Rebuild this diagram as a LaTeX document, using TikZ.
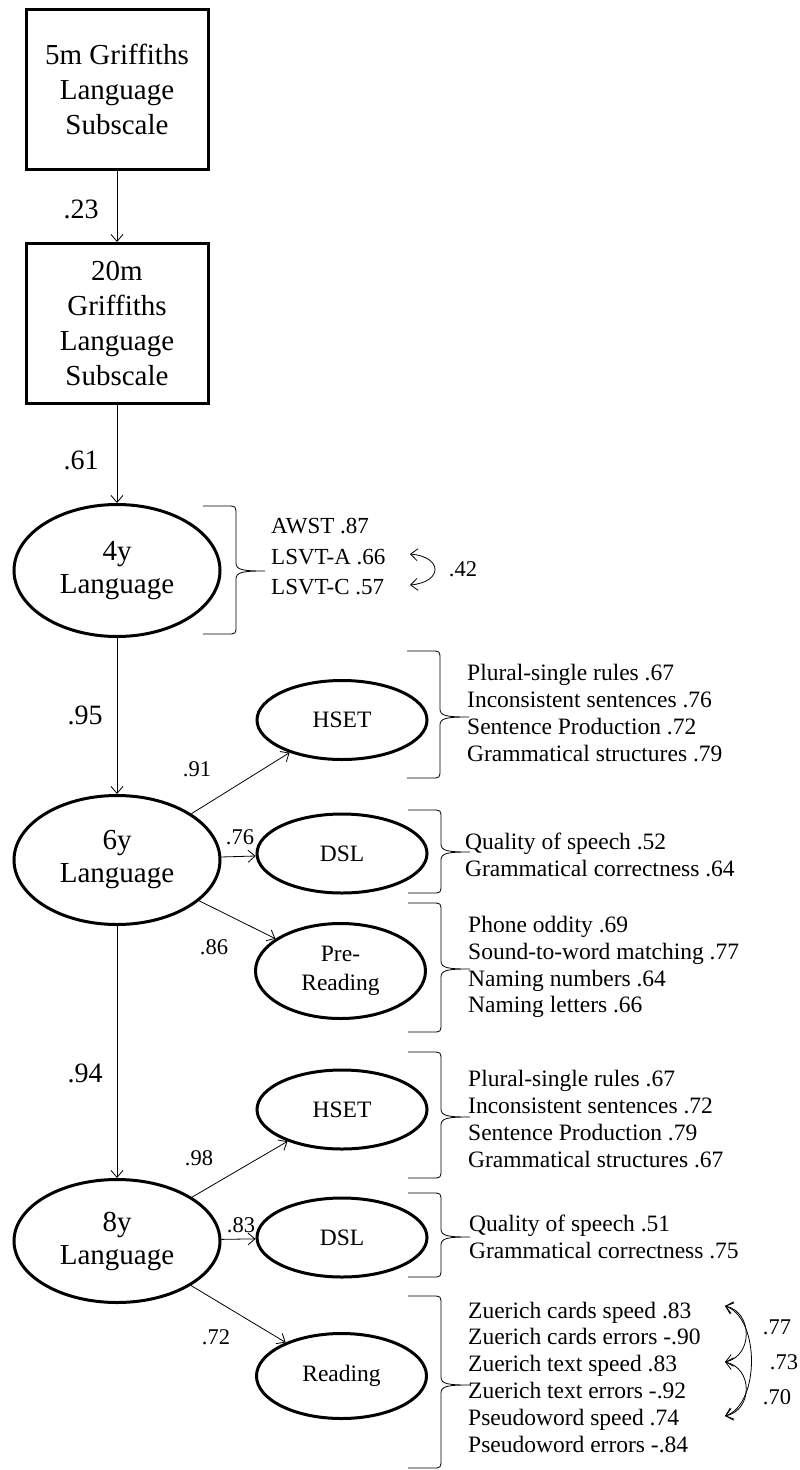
\documentclass[tikz,border=0pt]{standalone}
\usepackage{fontspec}
\setmainfont{Liberation Serif}
\usepackage{tikz}
\usetikzlibrary{shapes.geometric,arrows.meta}

\newcommand{\itembrace}[4]{%
	\draw[brc] (#1,#2) -- ({#1+24},#2) .. controls ({#1+33},#2) .. ({#1+33},{#2+9})
		-- ({#1+33},{#3-8}) .. controls ({#1+33},{#3-1}) and ({#1+40},#3) .. ({#1+62},#3)
		.. controls ({#1+40},#3) and ({#1+33},{#3+1}) .. ({#1+33},{#3+8})
		-- ({#1+33},{#4-9}) .. controls ({#1+33},#4) .. ({#1+24},#4) -- (#1,#4);%
}

\tikzset{
	measure/.style={draw, line width=3pt, rectangle, minimum width=182pt, minimum height=160pt, align=center, inner sep=0pt, font=\fontsize{29}{35}\selectfont},
	latent/.style={draw, line width=3pt, ellipse, minimum width=206pt, minimum height=129pt, align=center, inner sep=0pt, font=\fontsize{29}{33}\selectfont},
	factor/.style={draw, line width=3pt, ellipse, minimum width=170pt, minimum height=79pt, align=center, inner sep=0pt, font=\fontsize{23.5}{29}\selectfont},
	regr/.style={line width=0.8pt, -{Straight Barb[length=7pt,width=12pt]}},
	cov/.style={line width=0.8pt, {Straight Barb[length=7pt,width=12pt]}-{Straight Barb[length=7pt,width=12pt]}},
	bigcoef/.style={inner sep=0pt, font=\fontsize{28}{28}\selectfont},
	coef/.style={inner sep=0pt, font=\fontsize{22.5}{22.5}\selectfont},
	items/.style={anchor=west, align=left, inner sep=0pt, font=\fontsize{23.5}{26.8}\selectfont},
	brc/.style={line width=0.8pt}
}

\begin{document}
\begin{tikzpicture}[x=1pt, y=-1pt]
\useasboundingbox (0,0) rectangle (800,1470);

\node[measure] (b5m) at (117,89.5) {5m Griffiths\\Language\\Subscale};
\node[measure] (b20m) at (117,323.5) {20m\\Griffiths\\Language\\Subscale};
\node[latent, minimum height=132pt] (y4) at (117,570.5) {4y\\Language};
\node[latent] (y6) at (117,860) {6y\\Language};
\node[latent, minimum height=123pt] (y8) at (117,1241) {8y\\Language};

\node[factor] (hset6) at (342,720) {HSET};
\node[factor] (dsl6) at (342,853.5) {DSL};
\node[factor, minimum height=95pt] (pre6) at (340.5,971) {Pre-\\Reading};
\node[factor] (hset8) at (342,1109.5) {HSET};
\node[factor] (dsl8) at (342,1237.5) {DSL};
\node[factor, minimum height=85pt] (read8) at (341.5,1376) {Reading};

\draw[regr] (b5m) -- (b20m);
\draw[regr] (b20m) -- (y4);
\draw[regr] (y4) -- (y6);
\draw[regr] (y6) -- (y8);
\draw[regr] (y6) -- (hset6);
\draw[regr] (y6) -- (dsl6);
\draw[regr] (y6) -- (pre6);
\draw[regr] (y8) -- (hset8);
\draw[regr] (y8) -- (dsl8);
\draw[regr] (y8) -- (read8);

\node[bigcoef] (k23) at (81,209) {.23};
\node[bigcoef] (k61) at (81,460) {.61};
\node[bigcoef] (k95) at (85,715) {.95};
\node[bigcoef] (k94) at (85,1073) {.94};
\node[coef] (k91) at (197,769) {.91};
\node[coef] (k76) at (240,837) {.76};
\node[coef] (k86) at (214,947) {.86};
\node[coef] (k98) at (199,1158) {.98};
\node[coef] (k83) at (241,1225) {.83};
\node[coef] (k72) at (216,1337) {.72};

\itembrace{203}{506}{571}{634}
\itembrace{407}{651}{717}{778}
\itembrace{408}{810}{852}{893}
\itembrace{408}{903}{969}{1032}
\itembrace{408}{1052}{1117}{1178}
\itembrace{408}{1193}{1237}{1277}
\itembrace{408}{1296}{1385}{1468}

\node[items, font=\fontsize{23}{30.5}\selectfont] (it4) at (271,557) {AWST .87\\LSVT-A .66\\LSVT-C .57};
\node[items] (ithset6) at (467,713) {Plural-single rules .67\\Inconsistent sentences .76\\Sentence Production .72\\Grammatical structures .79};
\node[items] (itdsl6) at (465,855) {Quality of speech .52\\Grammatical correctness .64};
\node[items] (itpre6) at (468,967) {Phone oddity .69\\Sound-to-word matching .77\\Naming numbers .64\\Naming letters .66};
\node[items] (ithset8) at (468,1119) {Plural-single rules .67\\Inconsistent sentences .72\\Sentence Production .79\\Grammatical structures .67};
\node[items] (itdsl8) at (469,1237) {Quality of speech .51\\Grammatical correctness .75};
\node[items] (itread8) at (468,1377) {Zuerich cards speed .83\\Zuerich cards errors -.90\\Zuerich text speed .83\\Zuerich text errors -.92\\Pseudoword speed .74\\Pseudoword errors -.84};

\coordinate (a1) at (410,554);
\coordinate (a2) at (410,585);
\draw[cov] (a1) .. controls +(33,3) and +(33,-3) .. (a2);
\node[coef] (k42) at (463,569) {.42};

\coordinate (z1) at (725,1306);
\coordinate (z2) at (725,1362);
\coordinate (z3) at (725,1416);
\draw[cov] (z1) .. controls +(28,6) and +(28,-6) .. (z2);
\draw[cov] (z2) .. controls +(28,6) and +(28,-6) .. (z3);
\draw[cov] (z1) .. controls +(35,12) and +(35,-12) .. (z3);
\node[coef] (k77) at (777,1327) {.77};
\node[coef] (k73) at (784,1362) {.73};
\node[coef] (k70) at (777,1397) {.70};
\end{tikzpicture}
\end{document}
